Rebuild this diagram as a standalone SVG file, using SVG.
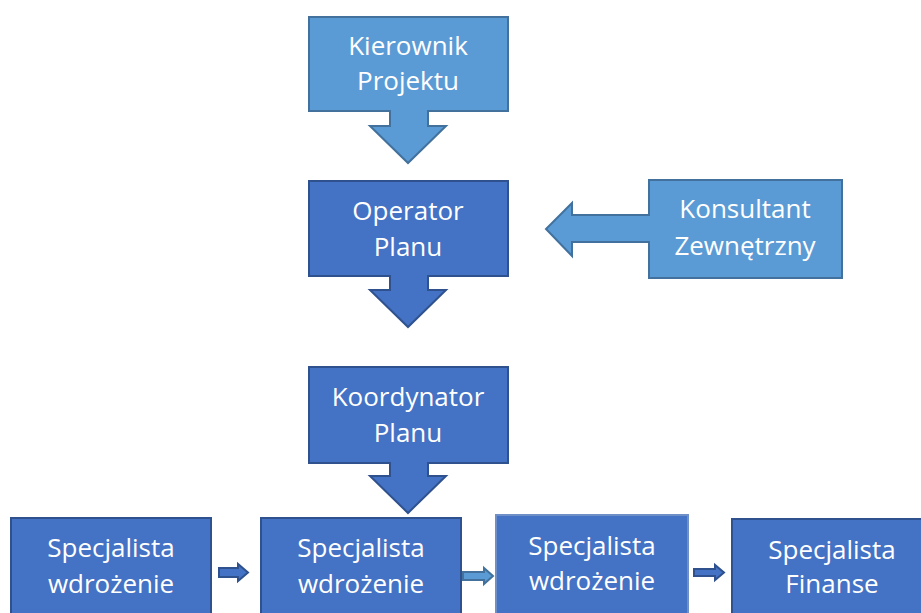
<svg xmlns="http://www.w3.org/2000/svg" width="921" height="613" viewBox="0 0 921 613">
<style>
.light{fill:#5b9bd5;stroke:#41719c;stroke-width:2}
.dark{fill:#4472c4;stroke:#2f528f;stroke-width:2}
.lbl{font-family:"Open Sans","Liberation Sans",sans-serif;font-size:26px;fill:#ffffff;text-anchor:middle}
</style>
<rect width="921" height="613" fill="#ffffff"/>
<g id="kierownik">
<path class="light" d="M309,17 H508 V111 H428 V126 H446 L408,163 L370,126 H390 V111 H309 Z"/>
<text class="lbl" x="408" y="55">Kierownik</text>
<text class="lbl" x="408" y="90">Projektu</text>
</g>
<g id="operator">
<path class="dark" d="M309,181 H508 V276 H428 V290 H446 L408,327 L370,290 H390 V276 H309 Z"/>
<text class="lbl" x="408" y="220">Operator</text>
<text class="lbl" x="408" y="256">Planu</text>
</g>
<g id="konsultant">
<path class="light" d="M649,180 H842 V278 H649 V242 H572 V256 L546,229 L572,203 V215 H649 Z"/>
<text class="lbl" x="745" y="218">Konsultant</text>
<text class="lbl" x="745" y="255">Zewnętrzny</text>
</g>
<g id="koordynator">
<path class="dark" d="M309,367 H508 V463 H428 V476 H446 L408,513 L370,476 H390 V463 H309 Z"/>
<text class="lbl" x="408" y="406">Koordynator</text>
<text class="lbl" x="408" y="442">Planu</text>
</g>
<g id="spec1">
<rect class="dark" x="11" y="518" width="200" height="110"/>
<text class="lbl" x="111" y="557">Specjalista</text>
<text class="lbl" x="111" y="593">wdrożenie</text>
</g>
<g id="spec2">
<rect class="dark" x="261" y="518" width="200" height="110"/>
<text class="lbl" x="361" y="557">Specjalista</text>
<text class="lbl" x="361" y="593">wdrożenie</text>
</g>
<g id="spec3">
<rect class="dark" x="496" y="515" width="192" height="110" style="stroke:#6f8fc9"/>
<text class="lbl" x="592" y="555">Specjalista</text>
<text class="lbl" x="592" y="590">wdrożenie</text>
</g>
<g id="spec4">
<rect class="dark" x="732" y="519" width="200" height="110"/>
<text class="lbl" x="832" y="559">Specjalista</text>
<text class="lbl" x="832" y="593">Finanse</text>
</g>
<g id="connectors">
<path class="dark" d="M219,568 H238 V564 L248,572.5 L238,581 V577 H219 Z"/>
<path class="light" d="M463,572 H484 V568 L493,576 L484,584 V580 H463 Z"/>
<path class="dark" d="M694,569 H715 V565 L724,572.5 L715,580 V576 H694 Z"/>
</g>
</svg>
